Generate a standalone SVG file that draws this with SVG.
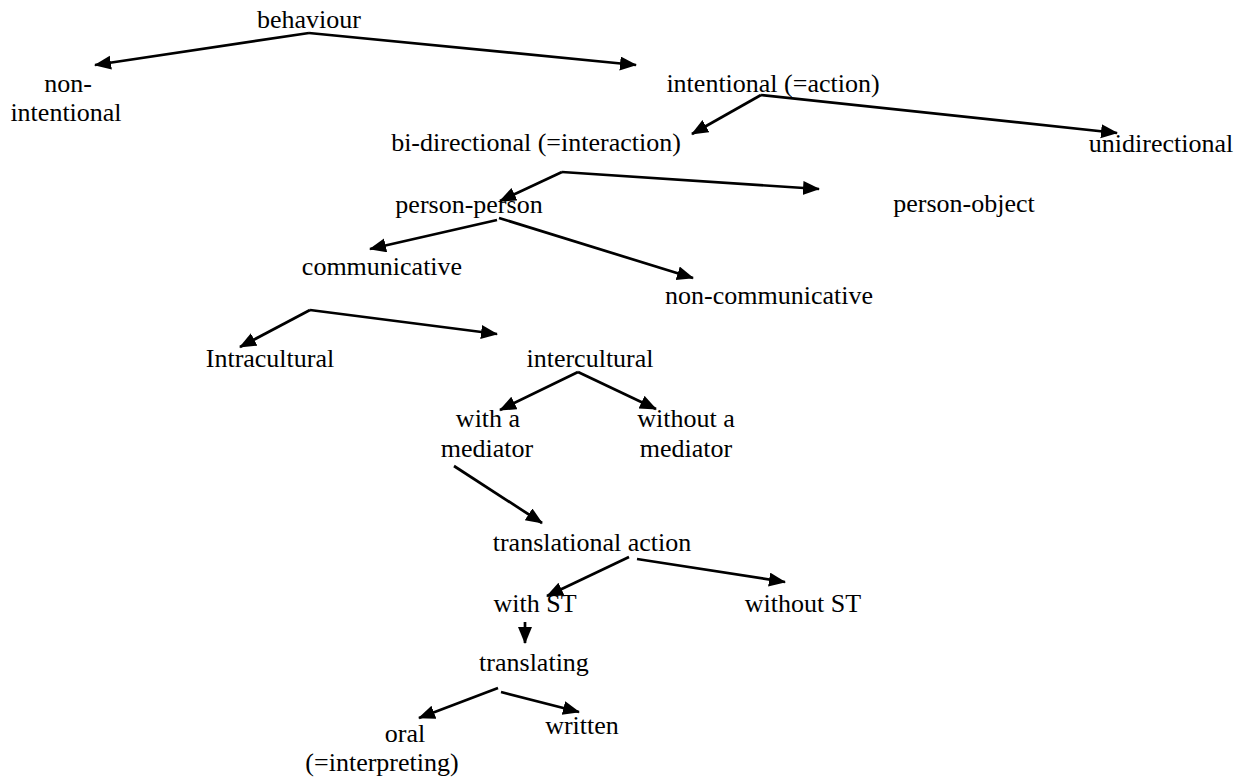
<svg xmlns="http://www.w3.org/2000/svg" width="1251" height="778" viewBox="0 0 1251 778">
<defs>
<style>
text{font-family:"Liberation Serif","Times New Roman",serif;font-size:26px;fill:#000;text-anchor:middle}
.c line{stroke:#000;stroke-width:2.7;fill:none}
</style>
<marker id="ah" markerUnits="userSpaceOnUse" markerWidth="20" markerHeight="16" refX="16" refY="7" orient="auto">
<path d="M0,0 L17,7 L0,14 z" fill="#000"/>
</marker>
</defs>
<rect width="1251" height="778" fill="#fff"/>
<g class="c" id="connectors">
<line x1="309" y1="33" x2="95" y2="65" marker-end="url(#ah)"/>
<line x1="309" y1="33" x2="636" y2="65" marker-end="url(#ah)"/>
<line x1="761" y1="95" x2="692" y2="134" marker-end="url(#ah)"/>
<line x1="761" y1="95" x2="1117" y2="133" marker-end="url(#ah)"/>
<line x1="562" y1="172" x2="500" y2="201" marker-end="url(#ah)"/>
<line x1="562" y1="172" x2="819" y2="189" marker-end="url(#ah)"/>
<line x1="497" y1="220" x2="370" y2="249" marker-end="url(#ah)"/>
<line x1="499" y1="218" x2="693" y2="278" marker-end="url(#ah)"/>
<line x1="310" y1="310" x2="240" y2="347" marker-end="url(#ah)"/>
<line x1="310" y1="310" x2="497" y2="334" marker-end="url(#ah)"/>
<line x1="578" y1="372" x2="500" y2="410" marker-end="url(#ah)"/>
<line x1="578" y1="372" x2="656" y2="409" marker-end="url(#ah)"/>
<line x1="454" y1="466" x2="542" y2="523" marker-end="url(#ah)"/>
<line x1="629" y1="557" x2="547" y2="596" marker-end="url(#ah)"/>
<line x1="637" y1="559" x2="785" y2="582" marker-end="url(#ah)"/>
<line x1="525" y1="622" x2="525" y2="643" marker-end="url(#ah)"/>
<line x1="498" y1="688" x2="419" y2="718" marker-end="url(#ah)"/>
<line x1="501" y1="692" x2="579" y2="712" marker-end="url(#ah)"/>
</g>
<g id="behaviour"><text x="309" y="28">behaviour</text></g>
<g id="non-intentional"><text x="68" y="92">non-</text><text x="66" y="121">intentional</text></g>
<g id="intentional"><text x="773" y="92">intentional (=action)</text></g>
<g id="bi-directional"><text x="536" y="151">bi-directional (=interaction)</text></g>
<g id="unidirectional"><text x="1161" y="152">unidirectional</text></g>
<g id="person-person"><text x="469" y="213">person-person</text></g>
<g id="person-object"><text x="964" y="212">person-object</text></g>
<g id="communicative"><text x="382" y="275">communicative</text></g>
<g id="non-communicative"><text x="769" y="304">non-communicative</text></g>
<g id="intracultural"><text x="270" y="367">Intracultural</text></g>
<g id="intercultural"><text x="590" y="367">intercultural</text></g>
<g id="with-mediator"><text x="488" y="427">with a</text><text x="487" y="457">mediator</text></g>
<g id="without-mediator"><text x="686" y="427">without a</text><text x="686" y="457">mediator</text></g>
<g id="translational-action"><text x="592" y="551">translational action</text></g>
<g id="with-st"><text x="535" y="612">with ST</text></g>
<g id="without-st"><text x="803" y="612">without ST</text></g>
<g id="translating"><text x="534" y="671">translating</text></g>
<g id="oral"><text x="405" y="742">oral</text><text x="382" y="771">(=interpreting)</text></g>
<g id="written"><text x="582" y="734">written</text></g>
</svg>
